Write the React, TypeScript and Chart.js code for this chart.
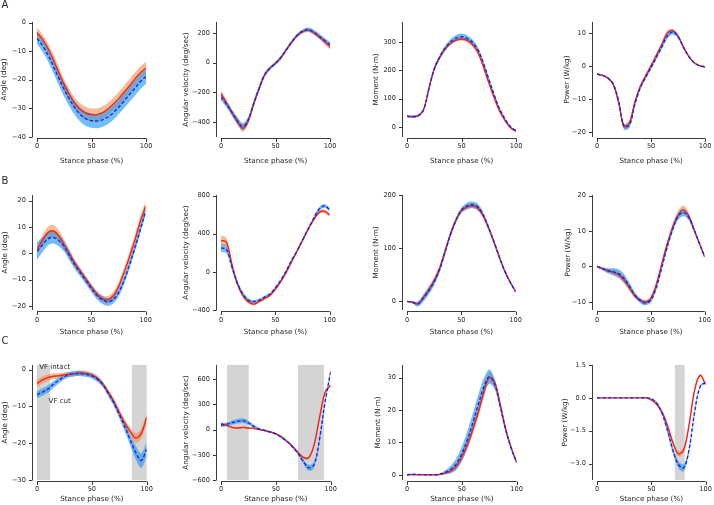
import React, { useEffect, useRef } from 'react';
import { Chart, registerables } from 'chart.js';
Chart.register(...registerables);

// ---------------- data ----------------
const phase = [0, 5, 10, 15, 20, 25, 30, 35, 40, 45, 50, 55, 60, 65, 70, 75, 80, 85, 90, 95, 100];
const xTicks = [0, 50, 100];
const xTitle = 'Stance phase (%)';
const yTitles = ['Angle (deg)', 'Angular velocity (deg/sec)', 'Moment (N·m)', 'Power (W/kg)'];
const panelLetters = ['A', 'B', 'C'];
const labelIntact = 'VF intact';
const labelCut = 'VF cut';

// Row A
const a1Ticks = [-40, -30, -20, -10, 0];
const a1IntactMean = [-3.5, -5.8, -9, -13, -17.5, -21.8, -25.5, -28.5, -30.5, -31.7, -32.2, -32.2, -31.5, -30.2, -28.5, -26.5, -24.3, -22, -19.6, -17.5, -15.9];
const a1IntactSd = [1.6, 1.7, 1.8, 2, 2, 2, 2.1, 2.1, 2.2, 2.2, 2.2, 2.2, 2.2, 2.2, 2.2, 2.3, 2.3, 2.3, 2.3, 2.3, 2.2];
const a1CutMean = [-5.5, -8, -11.3, -15.3, -19.5, -23.5, -27, -30, -32.3, -33.7, -34.3, -34.4, -34, -33, -31.5, -29.5, -27.3, -25, -22.8, -20.5, -18.8];
const a1CutSd = [2, 2.1, 2.2, 2.3, 2.4, 2.5, 2.5, 2.5, 2.5, 2.5, 2.5, 2.5, 2.5, 2.5, 2.5, 2.5, 2.5, 2.6, 2.6, 2.6, 2.6];

const a2Ticks = [-400, -200, 0, 200];
const a2IntactMean = [-208, -270, -335, -395, -442, -390, -275, -172, -82, -36, -5, 35, 88, 140, 182, 208, 218, 200, 172, 140, 104];
const a2IntactSd = [20, 20, 20, 22, 22, 22, 20, 18, 15, 12, 12, 12, 12, 12, 12, 12, 12, 14, 15, 16, 16];
const a2CutMean = [-232, -280, -335, -390, -430, -385, -275, -172, -82, -36, -5, 35, 88, 140, 185, 212, 222, 205, 178, 148, 120];
const a2CutSd = [22, 22, 22, 24, 24, 22, 20, 18, 15, 12, 12, 12, 12, 12, 12, 12, 14, 15, 16, 17, 18];

const a3Ticks = [0, 100, 200, 300];
const a3IntactMean = [38, 37, 40, 60, 135, 205, 245, 275, 295, 306, 310, 305, 290, 262, 212, 155, 102, 55, 22, -3, -15];
const a3IntactSd = [3, 3, 3, 4, 5, 6, 6, 6, 6, 6, 6, 6, 6, 6, 6, 5, 5, 4, 3, 3, 3];
const a3CutMean = [38, 36, 39, 59, 133, 205, 247, 278, 300, 313, 318, 312, 298, 272, 225, 168, 112, 63, 27, 0, -13];
const a3CutSd = [3, 4, 4, 5, 6, 7, 8, 9, 10, 11, 11, 11, 10, 9, 8, 7, 6, 5, 4, 3, 3];

const a4Ticks = [-20, -10, 0, 10];
const a4IntactMean = [-2.3, -2.7, -3.5, -5.5, -11, -18.2, -17, -10.8, -6, -2.8, 0.3, 3.5, 6.8, 10.2, 10.8, 9.2, 5.8, 3, 1.1, 0.2, -0.1];
const a4IntactSd = [0.2, 0.2, 0.3, 0.4, 0.6, 0.8, 0.8, 0.6, 0.5, 0.4, 0.4, 0.4, 0.5, 0.6, 0.6, 0.5, 0.4, 0.3, 0.2, 0.2, 0.2];
const a4CutMean = [-2.3, -2.7, -3.5, -5.3, -10.5, -18.2, -17.8, -11.5, -6.5, -3.3, -0.3, 2.8, 6, 9.2, 10.5, 9, 5.8, 3, 1.1, 0.2, -0.1];
const a4CutSd = [0.2, 0.2, 0.3, 0.4, 0.7, 0.9, 0.9, 0.8, 0.6, 0.6, 0.6, 0.6, 0.7, 0.8, 0.8, 0.6, 0.4, 0.3, 0.2, 0.2, 0.2];

// Row B
const b1Ticks = [-20, -10, 0, 10, 20];
const b1IntactMean = [1.4, 4.9, 7.9, 8.5, 6.7, 3.2, -0.4, -3.9, -6.8, -9.8, -12.7, -15.3, -17.2, -17.6, -16.2, -12.7, -7.4, -1.5, 4.9, 12, 17.9];
const b1IntactSd = [1.5, 2, 2.2, 2.3, 2.2, 2, 1.8, 1.5, 1.3, 1.2, 1.2, 1.2, 1.3, 1.4, 1.5, 1.6, 1.8, 2, 2, 2, 2];
const b1CutMean = [0.8, 3.2, 5.5, 6.1, 4.9, 2.6, -0.9, -4.5, -7.4, -10.4, -13.3, -16, -17.6, -18.4, -17.6, -15, -10.4, -4.5, 2, 9, 16.1];
const b1CutSd = [3.3, 2.8, 2.5, 2.3, 2.2, 2, 1.8, 1.6, 1.5, 1.4, 1.4, 1.4, 1.5, 1.5, 1.5, 1.5, 1.5, 1.5, 1.5, 1.5, 1.5];

const b2Ticks = [-400, 0, 400, 800];
const b2IntactMean = [330, 310, 80, -119, -248, -312, -338, -312, -280, -248, -183, -103, -6, 106, 219, 331, 444, 540, 621, 637, 595];
const b2IntactSd = [50, 45, 35, 25, 20, 18, 15, 12, 12, 12, 12, 12, 12, 12, 15, 15, 15, 15, 18, 18, 18];
const b2CutMean = [251, 235, 55, -119, -232, -296, -312, -296, -264, -232, -167, -87, 10, 122, 219, 331, 444, 556, 653, 692, 653];
const b2CutSd = [40, 40, 35, 30, 25, 20, 15, 12, 12, 12, 12, 12, 12, 12, 12, 12, 15, 15, 20, 20, 20];

const b3Ticks = [0, 100, 200];
const b3IntactMean = [0, -1.8, -4.7, 7, 21.6, 39, 62.6, 94.7, 127, 153, 171, 178, 180.7, 176.6, 162, 138.6, 112, 83, 56.7, 36, 18.7];
const b3IntactSd = [1, 2, 3, 5, 6, 6, 6, 6, 5, 5, 5, 5, 5, 5, 5, 4, 4, 3, 3, 2, 2];
const b3CutMean = [0, -2, -5, 6, 20, 37, 60, 93, 126, 153, 172, 180, 182.5, 178.5, 164, 140, 113, 84, 57, 36, 18];
const b3CutSd = [1, 2, 5, 7, 7, 7, 6, 6, 5, 5, 5, 6, 6, 6, 5, 4, 4, 3, 3, 2, 2];

const b4Ticks = [-10, 0, 10, 20];
const b4IntactMean = [0, -0.6, -1.2, -1.6, -2.3, -3.8, -6, -8.2, -9.5, -10.1, -9, -5.1, 0.5, 6.2, 10.9, 14.4, 16, 14.4, 10.5, 6.6, 2.7];
const b4IntactSd = [0.2, 0.4, 0.6, 0.8, 0.9, 1, 0.9, 0.7, 0.6, 0.6, 0.6, 0.6, 0.6, 0.7, 0.9, 1.1, 1.2, 1, 0.7, 0.4, 0.2];
const b4CutMean = [0, -0.6, -1.2, -1.5, -2, -3.3, -5.5, -8, -9.6, -10.3, -9.5, -6, -0.5, 5.3, 10.3, 14, 15.3, 14, 10.5, 6.6, 2.8];
const b4CutSd = [0.2, 0.4, 0.7, 1, 1.2, 1.2, 1, 0.8, 0.7, 0.7, 0.7, 0.7, 0.7, 0.8, 0.9, 1, 1.1, 0.9, 0.6, 0.4, 0.2];

// Row C
const c1Ticks = [-30, -20, -10, 0];
const c1IntactMean = [-3.8, -2.8, -2.2, -1.8, -1.7, -1.4, -1.3, -1.1, -0.9, -1.1, -1.5, -2.3, -4, -6.1, -8.6, -11.6, -14.5, -16.8, -18.6, -17.4, -13];
const c1IntactSd = [1, 1, 0.9, 0.8, 0.7, 0.7, 0.7, 0.7, 0.7, 0.7, 0.7, 0.7, 0.7, 0.7, 0.8, 0.9, 1, 1.1, 1.3, 1.4, 1.4];
const c1CutMean = [-6.8, -6.1, -5.3, -4, -2.9, -1.9, -1.3, -1.1, -1.1, -1.3, -1.7, -2.6, -4, -6.5, -9, -12.2, -15.5, -19.1, -22.5, -24.7, -21.6];
const c1CutSd = [1, 1, 1, 0.9, 0.8, 0.7, 0.7, 0.7, 0.7, 0.7, 0.7, 0.7, 0.7, 0.8, 0.9, 1, 1.2, 1.5, 1.8, 2, 2];
const c1Shade = [[0, 12], [86.5, 100]];

const c2Ticks = [-600, -300, 0, 300, 600];
const c2IntactMean = [73, 51, 26, 18, 26, 18, 15, 0, -11, -29, -48, -84, -139, -194, -268, -330, -335, -176, 154, 448, 528];
const c2IntactSd = [15, 15, 12, 10, 10, 10, 10, 8, 8, 8, 8, 8, 10, 10, 12, 15, 15, 15, 15, 15, 15];
const c2CutMean = [51, 62, 81, 99, 106, 81, 37, 7, -11, -29, -55, -92, -139, -205, -279, -378, -455, -415, -103, 338, 686];
const c2CutSd = [20, 22, 25, 28, 28, 25, 20, 12, 10, 10, 10, 10, 12, 15, 20, 25, 35, 35, 30, 30, 30];
const c2Shade = [[5.5, 25.3], [70.2, 94]];

const c3Ticks = [0, 10, 20, 30];
const c3IntactMean = [0, 0, 0, 0, 0, 0, 0.1, 0.5, 1.2, 2.7, 5.5, 9.3, 14.1, 19.3, 25.5, 30.1, 28.4, 21.7, 14.1, 8.4, 3.8];
const c3IntactSd = [0, 0, 0, 0, 0, 0, 0.1, 0.3, 0.6, 1, 1.3, 1.5, 1.6, 1.7, 1.7, 1.6, 1.4, 1.2, 0.9, 0.6, 0.4];
const c3CutMean = [0, 0.2, 0.1, 0, 0, 0, 0.2, 0.8, 1.7, 3.4, 6.5, 10.8, 16, 21.7, 27, 30.3, 27.9, 21.2, 13.9, 8.2, 3.8];
const c3CutSd = [0.1, 0.1, 0.1, 0.05, 0.05, 0.05, 0.2, 0.6, 1.2, 1.8, 2.3, 2.7, 3, 3, 2.8, 2.2, 1.6, 1.2, 0.9, 0.6, 0.4];

const c4Ticks = [-3, -1.5, 0, 1.5];
const c4IntactMean = [0, 0, 0, 0, 0, 0, 0, 0, 0, 0, -0.1, -0.31, -0.66, -1.29, -2.07, -2.56, -2.35, -1.15, 0.39, 1.03, 0.6];
const c4IntactSd = [0, 0, 0, 0, 0, 0, 0, 0, 0, 0, 0.02, 0.05, 0.08, 0.1, 0.12, 0.12, 0.12, 0.1, 0.06, 0.05, 0.05];
const c4CutMean = [0, 0, 0, 0, 0, 0, 0, 0, 0, 0, -0.05, -0.24, -0.73, -1.5, -2.42, -3.05, -3.19, -2.28, -0.59, 0.53, 0.7];
const c4CutSd = [0, 0, 0, 0, 0, 0, 0, 0, 0, 0.01, 0.03, 0.06, 0.1, 0.14, 0.16, 0.16, 0.16, 0.12, 0.08, 0.05, 0.05];
const c4Shade = [[71.6, 80.7]];

// ---------------- layout / style ----------------
const COLS = [[37, 148], [221, 332], [407, 518], [597, 707]];
const ROWS = [[13, 137], [186, 310], [356, 480]];
const Y_TITLE_DIST = [[33, 35, 31, 30], [32, 34.5, 31, 29], [32, 35, 28.5, 32]];
const X_TICK_DIST = [9.5, 10, 9];
const X_TITLE_DIST = [24.5, 22, 19];
const LETTER_TOP = [0, 175.5, 336];
const LW = 44, RP = 10, TP = 6, BH = 32;
const FONT = 'DejaVu Sans';
const TICK_SIZE = 6.6;
const TITLE_SIZE = 7.2;
const TEXT_COLOR = '#262626';
const SPINE_COLOR = '#3c3c3c';
const RED = 'rgb(245,35,20)';
const BLUE = 'rgb(25,40,235)';
const ORANGE_BAND = 'rgba(244,132,64,0.55)';
const BLUE_BAND = 'rgba(30,150,240,0.62)';
const SHADE = '#d4d4d4';

type Panel = {
  row: number; col: number; yMin: number; yMax: number; ticks: number[]; dec: number;
  im: number[]; isd: number[]; cm: number[]; csd: number[]; shade: number[][]; notes?: boolean;
};

const panels: Panel[] = [
  { row: 0, col: 0, yMin: -40, yMax: 0.2, ticks: a1Ticks, dec: 0, im: a1IntactMean, isd: a1IntactSd, cm: a1CutMean, csd: a1CutSd, shade: [] },
  { row: 0, col: 1, yMin: -500, yMax: 273, ticks: a2Ticks, dec: 0, im: a2IntactMean, isd: a2IntactSd, cm: a2CutMean, csd: a2CutSd, shade: [] },
  { row: 0, col: 2, yMin: -35, yMax: 370, ticks: a3Ticks, dec: 0, im: a3IntactMean, isd: a3IntactSd, cm: a3CutMean, csd: a3CutSd, shade: [] },
  { row: 0, col: 3, yMin: -21.4, yMax: 13.5, ticks: a4Ticks, dec: 0, im: a4IntactMean, isd: a4IntactSd, cm: a4CutMean, csd: a4CutSd, shade: [] },
  { row: 1, col: 0, yMin: -21.5, yMax: 22.2, ticks: b1Ticks, dec: 0, im: b1IntactMean, isd: b1IntactSd, cm: b1CutMean, csd: b1CutSd, shade: [] },
  { row: 1, col: 1, yMin: -400, yMax: 806, ticks: b2Ticks, dec: 0, im: b2IntactMean, isd: b2IntactSd, cm: b2CutMean, csd: b2CutSd, shade: [] },
  { row: 1, col: 2, yMin: -16.4, yMax: 201, ticks: b3Ticks, dec: 0, im: b3IntactMean, isd: b3IntactSd, cm: b3CutMean, csd: b3CutSd, shade: [] },
  { row: 1, col: 3, yMin: -12.3, yMax: 20.2, ticks: b4Ticks, dec: 0, im: b4IntactMean, isd: b4IntactSd, cm: b4CutMean, csd: b4CutSd, shade: [] },
  { row: 2, col: 0, yMin: -30, yMax: 1.26, ticks: c1Ticks, dec: 0, im: c1IntactMean, isd: c1IntactSd, cm: c1CutMean, csd: c1CutSd, shade: c1Shade, notes: true },
  { row: 2, col: 1, yMin: -600, yMax: 769, ticks: c2Ticks, dec: 0, im: c2IntactMean, isd: c2IntactSd, cm: c2CutMean, csd: c2CutSd, shade: c2Shade },
  { row: 2, col: 2, yMin: -1.6, yMax: 33.9, ticks: c3Ticks, dec: 0, im: c3IntactMean, isd: c3IntactSd, cm: c3CutMean, csd: c3CutSd, shade: [] },
  { row: 2, col: 3, yMin: -3.75, yMax: 1.5, ticks: c4Ticks, dec: 1, im: c4IntactMean, isd: c4IntactSd, cm: c4CutMean, csd: c4CutSd, shade: c4Shade },
];

const fmt = (v: number, dec: number) => (v < 0 ? '\u2212' : '') + Math.abs(v).toFixed(dec);
const pts = (arr: number[]) => arr.map((y, i) => ({ x: phase[i], y }));
const ptsOff = (m: number[], s: number[], sign: number) => m.map((y, i) => ({ x: phase[i], y: y + sign * s[i] }));

function PanelChart({ p }: { p: Panel }) {
  const ref = useRef<HTMLCanvasElement>(null);
  const [x0, x1] = COLS[p.col];
  const [t, b] = ROWS[p.row];
  const w = LW + (x1 - x0) + RP;
  const h = TP + (b - t) + BH;

  useEffect(() => {
    const tickFont = { family: FONT, size: TICK_SIZE };
    const titleFont = { family: FONT, size: TITLE_SIZE };
    const titleLH = TITLE_SIZE * 1.2;
    const tickLH = TICK_SIZE * 1.2;

    const shadePlugin = {
      id: 'shade',
      beforeDatasetsDraw(chart: any) {
        const { ctx, chartArea, scales } = chart;
        ctx.save();
        ctx.fillStyle = SHADE;
        for (const [a, c] of p.shade) {
          const xa = scales.x.getPixelForValue(a);
          const xc = scales.x.getPixelForValue(c);
          ctx.fillRect(xa, chartArea.top, xc - xa, chartArea.bottom - chartArea.top);
        }
        ctx.restore();
      },
    };

    const spinePlugin = {
      id: 'spines',
      afterDraw(chart: any) {
        const { ctx, chartArea, scales } = chart;
        ctx.save();
        ctx.strokeStyle = SPINE_COLOR;
        ctx.lineWidth = 1;
        const sx = Math.round(chartArea.left - 5) + 0.5;
        ctx.beginPath();
        ctx.moveTo(sx, chartArea.top);
        ctx.lineTo(sx, chartArea.bottom);
        for (const v of p.ticks) {
          const py = Math.round(scales.y.getPixelForValue(v)) + 0.5;
          ctx.moveTo(sx - 3.5, py);
          ctx.lineTo(sx, py);
        }
        const sy = Math.round(chartArea.bottom + 1) + 0.5;
        ctx.moveTo(chartArea.left, sy);
        ctx.lineTo(chartArea.right, sy);
        for (const v of xTicks) {
          const px = Math.round(scales.x.getPixelForValue(v)) + 0.5;
          ctx.moveTo(px, sy);
          ctx.lineTo(px, sy + 3.5);
        }
        ctx.stroke();
        if (p.notes) {
          ctx.fillStyle = TEXT_COLOR;
          ctx.font = `7px "${FONT}"`;
          ctx.textBaseline = 'middle';
          ctx.textAlign = 'left';
          ctx.fillText(labelIntact, scales.x.getPixelForValue(2), scales.y.getPixelForValue(0.6));
          ctx.fillText(labelCut, scales.x.getPixelForValue(10.6), scales.y.getPixelForValue(-8.6));
        }
        ctx.restore();
      },
    };

    const band = (m: number[], s: number[], color: string, order: number) => [
      { data: ptsOff(m, s, 1), fill: '+1', backgroundColor: color, borderColor: 'rgba(0,0,0,0)', borderWidth: 0, pointRadius: 0, tension: 0.35, order },
      { data: ptsOff(m, s, -1), fill: false, backgroundColor: color, borderColor: 'rgba(0,0,0,0)', borderWidth: 0, pointRadius: 0, tension: 0.35, order },
    ];

    const chart = new Chart(ref.current!, {
      type: 'line',
      data: {
        datasets: [
          ...band(p.im, p.isd, ORANGE_BAND, 4),
          ...band(p.cm, p.csd, BLUE_BAND, 3),
          { data: pts(p.im), borderColor: RED, borderWidth: 1.4, pointRadius: 0, fill: false, tension: 0.35, order: 2 },
          { data: pts(p.cm), borderColor: BLUE, borderWidth: 1.4, borderDash: [3.5, 2], pointRadius: 0, fill: false, tension: 0.35, order: 1 },
        ] as any,
      },
      options: {
        animation: false,
        responsive: false,
        devicePixelRatio: 1,
        events: [],
        layout: { padding: { left: 0, right: RP, top: TP, bottom: 0 } },
        plugins: { legend: { display: false }, tooltip: { enabled: false } },
        scales: {
          x: {
            type: 'linear',
            min: 0,
            max: 100,
            afterBuildTicks: (s: any) => { s.ticks = xTicks.map((v) => ({ value: v })); },
            afterFit: (s: any) => { s.height = BH; },
            grid: { display: false, drawTicks: false },
            border: { display: false },
            ticks: {
              autoSkip: false,
              maxRotation: 0,
              font: tickFont,
              color: TEXT_COLOR,
              padding: X_TICK_DIST[p.row] - tickLH / 2,
              callback: (v: any) => fmt(Number(v), 0),
            },
            title: {
              display: true,
              text: xTitle,
              font: titleFont,
              color: TEXT_COLOR,
              padding: { top: 0, bottom: BH - X_TITLE_DIST[p.row] - titleLH / 2 },
            },
          },
          y: {
            type: 'linear',
            min: p.yMin,
            max: p.yMax,
            afterBuildTicks: (s: any) => { s.ticks = p.ticks.map((v) => ({ value: v })); },
            afterFit: (s: any) => { s.width = LW; },
            grid: { display: false, drawTicks: false },
            border: { display: false },
            ticks: {
              autoSkip: false,
              font: tickFont,
              color: TEXT_COLOR,
              padding: 11,
              callback: (v: any) => fmt(Number(v), p.dec),
            },
            title: {
              display: true,
              text: yTitles[p.col],
              font: titleFont,
              color: TEXT_COLOR,
              padding: { top: LW - Y_TITLE_DIST[p.row][p.col] - titleLH / 2, bottom: 0 },
            },
          },
        },
      } as any,
      plugins: [shadePlugin, spinePlugin],
    });
    return () => chart.destroy();
  }, []);

  return (
    <canvas
      ref={ref}
      width={w}
      height={h}
      style={{ position: 'absolute', left: x0 - LW, top: t - TP, width: w, height: h }}
    />
  );
}

export default function App() {
  return (
    <div style={{ position: 'absolute', left: 0, top: 0, width: 714, height: 505, background: '#fff', overflow: 'hidden' }}>
      {panels.map((p, i) => (
        <PanelChart key={i} p={p} />
      ))}
      {panelLetters.map((l, i) => (
        <div
          key={l}
          style={{
            position: 'absolute',
            left: 1.5,
            top: LETTER_TOP[i],
            fontFamily: FONT,
            fontSize: 10,
            lineHeight: '10px',
            color: TEXT_COLOR,
          }}
        >
          {l}
        </div>
      ))}
    </div>
  );
}
